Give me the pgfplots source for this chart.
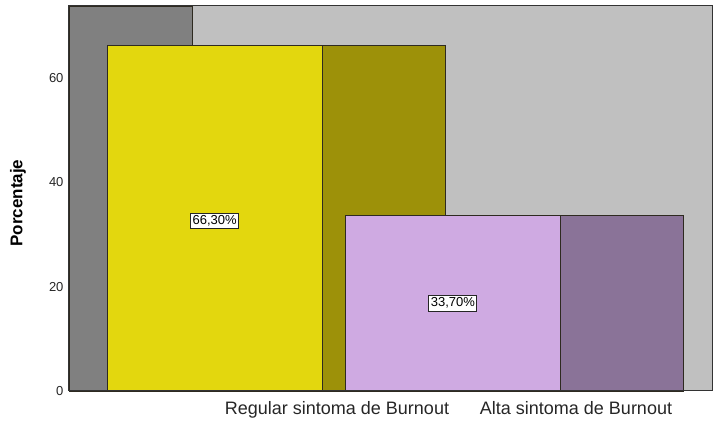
\documentclass[border=0pt]{standalone}
\usepackage{fontspec}
\setmainfont{Liberation Sans}
\usepackage{pgfplots}
\pgfplotsset{compat=1.18}
\definecolor{wallgray}{HTML}{808080}
\definecolor{bggray}{HTML}{C0C0C0}
\definecolor{byellow}{HTML}{E3D70E}
\definecolor{bolive}{HTML}{9D9109}
\definecolor{blilac}{HTML}{CFAAE2}
\definecolor{bpurple}{HTML}{8A7398}
\definecolor{edge}{HTML}{2E2A20}
\begin{document}
\begin{tikzpicture}
\begin{axis}[
  scale only axis,
  width=643pt, height=385pt,
  xmin=69, xmax=712, ymin=0, ymax=73.8,
  axis background/.style={fill=bggray},
  axis line style={draw=black!80, line width=1pt},
  clip=false,
  ytick={0,20,40,60},
  major tick length=0pt,
  /pgf/number format/assume math mode=true,
  yticklabel style={font=\fontsize{13}{15}\selectfont, text=black!85, xshift=-2pt},
  xtick={337,576},
  xticklabels={Regular sintoma de Burnout, Alta sintoma de Burnout},
  xticklabel style={font=\fontsize{18}{21}\selectfont, text=black!85, yshift=-7pt},
  ylabel={Porcentaje},
  ylabel style={font=\fontsize{17}{20}\selectfont\bfseries, at={(axis description cs:-0.0793,0.488)}, anchor=center},
]
% left wall
\addplot[ybar, bar width=123.7, bar shift=0pt, fill=wallgray, draw=edge, line width=0.9pt] coordinates {(130.85,73.8)};
% first category: side and front
\addplot[ybar, bar width=123.7, bar shift=0pt, fill=bolive, draw=edge, line width=0.9pt] coordinates {(383.85,66.3)};
\addplot[ybar, bar width=214.7, bar shift=0pt, fill=byellow, draw=edge, line width=0.9pt] coordinates {(214.65,66.3)};
% second category: side and front
\addplot[ybar, bar width=123.3, bar shift=0pt, fill=bpurple, draw=edge, line width=0.9pt] coordinates {(621.65,33.7)};
\addplot[ybar, bar width=214.3, bar shift=0pt, fill=blilac, draw=edge, line width=0.9pt] coordinates {(452.85,33.7)};
% value labels
\node[fill=white, draw=black!85, line width=0.9pt, inner xsep=2pt, inner ysep=2.5pt, font=\fontsize{13}{15}\selectfont] at (axis cs:214.65,32.6) {66,30\%};
\node[fill=white, draw=black!85, line width=0.9pt, inner xsep=2pt, inner ysep=2.5pt, font=\fontsize{13}{15}\selectfont] at (axis cs:452.85,16.85) {33,70\%};
% redraw frame on top
\draw[draw=black!80, line width=1pt] (rel axis cs:0,0) rectangle (rel axis cs:1,1);
\end{axis}
\useasboundingbox ([xshift=-69pt,yshift=-32pt]current axis.south west) rectangle ([xshift=1pt,yshift=6pt]current axis.north east);
\end{tikzpicture}
\end{document}
